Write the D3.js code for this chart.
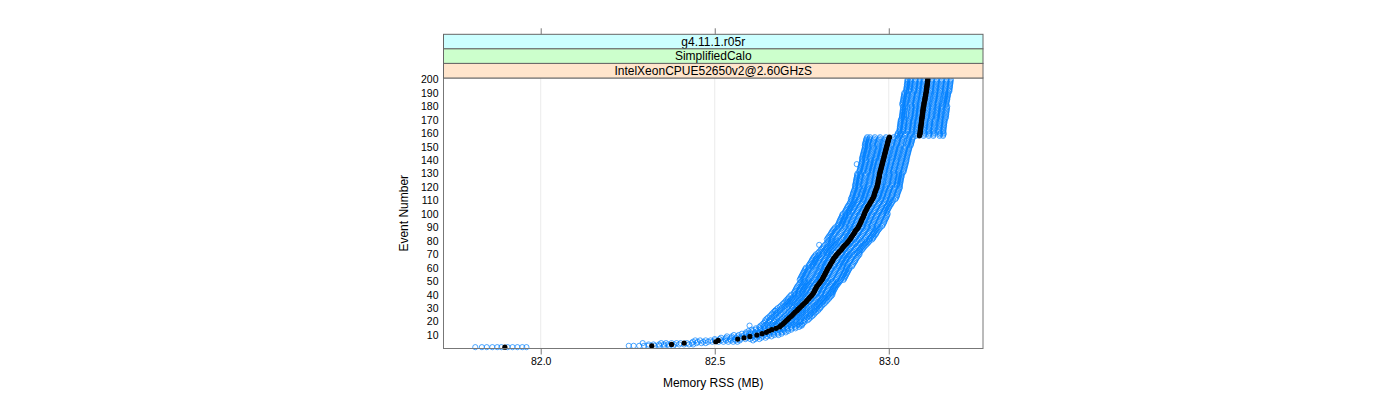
<!DOCTYPE html>
<html lang="en">
<head>
<meta charset="UTF-8">
<title>Memory RSS per event</title>
<script src="https://cdn.jsdelivr.net/npm/d3@7"></script>
<style>
    body { margin: 0; background: #fff; }
    text { font-family: "Liberation Sans", Arial, sans-serif; fill: #000; }
</style>
</head>
<body>
<svg id="chart" width="1400" height="400"></svg>
<script>
// strip labels (outer to inner) and their colours
const stripLabels = ["g4.11.1.r05r", "SimplifiedCalo", "IntelXeonCPUE52650v2@2.60GHzS"];
const stripColours = ["#ccffff", "#ccffcc", "#ffe5cc"];

const xTicks = [82.0, 82.5, 83.0];
const yTicks = [10, 20, 30, 40, 50, 60, 70, 80, 90, 100, 110, 120, 130, 140, 150, 160, 170, 180, 190, 200];

// median memory RSS (MB) for events 1..200, read from the black points
const medianRss = [
    81.897, 82.319, 82.376, 82.412, 82.503, 82.510, 82.566, 82.584, 82.601, 82.621,
    82.636, 82.648, 82.655, 82.664, 82.676, 82.686, 82.690, 82.695, 82.699, 82.703,
    82.707, 82.711, 82.715, 82.720, 82.724, 82.727, 82.731, 82.736, 82.739, 82.743,
    82.747, 82.751, 82.755, 82.759, 82.763, 82.766, 82.770, 82.773, 82.777, 82.780,
    82.783, 82.785, 82.787, 82.789, 82.791, 82.793, 82.796, 82.799, 82.802, 82.805,
    82.808, 82.810, 82.812, 82.814, 82.816, 82.818, 82.820, 82.822, 82.824, 82.826,
    82.829, 82.831, 82.833, 82.836, 82.838, 82.840, 82.842, 82.845, 82.848, 82.851,
    82.855, 82.858, 82.862, 82.865, 82.868, 82.871, 82.875, 82.879, 82.882, 82.885,
    82.888, 82.891, 82.893, 82.896, 82.899, 82.901, 82.903, 82.906, 82.909, 82.912,
    82.914, 82.916, 82.918, 82.920, 82.921, 82.923, 82.925, 82.927, 82.928, 82.930,
    82.931, 82.933, 82.935, 82.937, 82.939, 82.941, 82.944, 82.946, 82.948, 82.951,
    82.953, 82.955, 82.957, 82.958, 82.959, 82.960, 82.962, 82.963, 82.965, 82.966,
    82.967, 82.968, 82.969, 82.970, 82.970, 82.971, 82.972, 82.973, 82.973, 82.974,
    82.975, 82.976, 82.977, 82.978, 82.979, 82.980, 82.981, 82.982, 82.983, 82.984,
    82.985, 82.986, 82.987, 82.988, 82.989, 82.990, 82.991, 82.992, 82.993, 82.994,
    82.995, 82.996, 82.997, 82.998, 82.999, 83.000, 83.002, 83.088, 83.089, 83.090,
    83.090, 83.091, 83.091, 83.092, 83.092, 83.093, 83.093, 83.094, 83.094, 83.095,
    83.095, 83.096, 83.096, 83.097, 83.097, 83.098, 83.098, 83.099, 83.099, 83.100,
    83.101, 83.101, 83.102, 83.103, 83.104, 83.104, 83.105, 83.106, 83.106, 83.107,
    83.108, 83.108, 83.109, 83.109, 83.110, 83.110, 83.111, 83.111, 83.112, 83.112
];

// spread of the individual runs around the median (MB), one value per block of 10 events
const runOffsets = [
    [-0.052, -0.046, -0.050, -0.048, -0.045, -0.055, -0.050, -0.046, -0.056, -0.052, -0.048, -0.052, -0.055, -0.050, -0.054, -0.056, -0.050, -0.052, -0.054, -0.050],
    [-0.036, -0.032, -0.036, -0.038, -0.034, -0.038, -0.040, -0.035, -0.038, -0.042, -0.038, -0.036, -0.040, -0.035, -0.038, -0.042, -0.036, -0.034, -0.038, -0.035],
    [-0.022, -0.020, -0.018, -0.024, -0.025, -0.020, -0.024, -0.027, -0.022, -0.026, -0.023, -0.027, -0.024, -0.025, -0.022, -0.027, -0.024, -0.022, -0.025, -0.023],
    [-0.010, -0.012, -0.008, -0.013, -0.010, -0.011, -0.014, -0.010, -0.012, -0.013, -0.010, -0.012, -0.011, -0.013, -0.012, -0.010, -0.012, -0.011, -0.010, -0.012],
    [0.008, 0.010, 0.012, 0.008, 0.011, 0.010, 0.013, 0.009, 0.012, 0.010, 0.011, 0.014, 0.010, 0.012, 0.009, 0.012, 0.011, 0.013, 0.010, 0.012],
    [0.022, 0.020, 0.024, 0.025, 0.022, 0.025, 0.027, 0.024, 0.026, 0.022, 0.026, 0.025, 0.027, 0.024, 0.026, 0.027, 0.024, 0.026, 0.027, 0.025],
    [0.036, 0.033, 0.036, 0.038, 0.035, 0.040, 0.037, 0.038, 0.042, 0.037, 0.040, 0.038, 0.042, 0.038, 0.037, 0.040, 0.038, 0.042, 0.039, 0.040],
    [0.050, 0.045, 0.050, 0.048, 0.050, 0.054, 0.050, 0.053, 0.056, 0.052, 0.054, 0.051, 0.056, 0.053, 0.054, 0.058, 0.054, 0.052, 0.056, 0.054],
    [0.062, 0.056, 0.060, 0.058, 0.055, 0.062, 0.065, 0.060, 0.064, 0.067, 0.062, 0.066, 0.064, 0.067, 0.066, 0.068, 0.066, 0.068, 0.064, 0.066],
    [-0.066, -0.058, -0.062, -0.060, -0.056, -0.064, -0.060, -0.058, -0.066, -0.062, -0.058, -0.062, -0.064, -0.060, -0.062, -0.064, -0.060, -0.058, -0.062, -0.058]
];

// single stray run points [event, MB]
const strayPoints = [
    [1, 81.812], [4, 82.293], [6, 82.610], [17, 82.600], [17, 82.750],
    [28, 82.673], [35, 82.709], [77, 82.800], [137, 82.908]
];

let svg = d3.select('svg#chart');
let panel = {left: 443.5, right: 983, top: 78, bottom: 348.5};
let stripTop = 34.3;
let stripH = (panel.top - stripTop) / stripLabels.length;

let xScale = d3.scaleLinear().domain([81.7207, 83.2707]).range([panel.left, panel.right]);
let yScale = d3.scaleLinear().domain([0, 201]).range([panel.bottom, panel.top]);

// build the run points
let runPoints = [];
runOffsets.forEach(function (offs) {
    medianRss.forEach(function (m, i) {
        runPoints.push({event: i + 1, rss: m + offs[Math.floor(i / 10)]});
    });
});
strayPoints.forEach(function (d) { runPoints.push({event: d[0], rss: d[1]}); });

// vertical grid
svg.append('g').selectAll('line')
    .data(xTicks).enter().append('line')
    .attr('x1', d => xScale(d)).attr('x2', d => xScale(d))
    .attr('y1', panel.top).attr('y2', panel.bottom)
    .attr('stroke', '#ebebeb').attr('stroke-width', 1);

let plot = svg.append('g');
plot.selectAll('circle.run')
    .data(runPoints).enter().append('circle')
    .attr('class', 'run')
    .attr('cx', d => xScale(d.rss))
    .attr('cy', d => yScale(d.event))
    .attr('r', 2.6)
    .attr('fill', 'none')
    .attr('stroke', '#0080ff')
    .attr('stroke-width', 0.7);

plot.selectAll('circle.med')
    .data(medianRss).enter().append('circle')
    .attr('class', 'med')
    .attr('cx', d => xScale(d))
    .attr('cy', (d, i) => yScale(i + 1))
    .attr('r', 2.6)
    .attr('fill', '#000');

// panel border
svg.append('rect')
    .attr('x', panel.left).attr('y', panel.top)
    .attr('width', panel.right - panel.left).attr('height', panel.bottom - panel.top)
    .attr('fill', 'none').attr('stroke', '#777').attr('stroke-width', 1);

// strips
let strips = svg.append('g');
stripLabels.forEach(function (lab, i) {
    let y0 = stripTop + i * stripH;
    strips.append('rect')
        .attr('x', panel.left).attr('y', y0)
        .attr('width', panel.right - panel.left).attr('height', stripH)
        .attr('fill', stripColours[i]).attr('stroke', '#666').attr('stroke-width', 1);
    strips.append('text')
        .attr('x', (panel.left + panel.right) / 2).attr('y', y0 + stripH / 2 + 4.3)
        .attr('text-anchor', 'middle').style('font-size', '12px')
        .text(lab);
});

// axes
let xAxis = svg.append('g')
    .attr('transform', 'translate(0,' + panel.bottom + ')')
    .call(d3.axisBottom(xScale).tickValues(xTicks).tickFormat(d3.format('.1f')).tickSize(6).tickPadding(3));
let xTop = svg.append('g')
    .attr('transform', 'translate(0,' + stripTop + ')')
    .call(d3.axisTop(xScale).tickValues(xTicks).tickFormat('').tickSize(6));
let yAxis = svg.append('g')
    .attr('transform', 'translate(' + panel.left + ',0)')
    .call(d3.axisLeft(yScale).tickValues(yTicks).tickSize(0).tickPadding(5));

[xAxis, xTop, yAxis].forEach(function (a) {
    a.select('.domain').remove();
    a.selectAll('line').attr('stroke', '#777');
    a.selectAll('text').style('font-size', '10.5px').style('font-family', '"Liberation Sans", Arial, sans-serif').attr('fill', '#000');
});

// axis titles
svg.append('text')
    .attr('x', (panel.left + panel.right) / 2).attr('y', 387)
    .attr('text-anchor', 'middle').style('font-size', '12px')
    .text('Memory RSS (MB)');
svg.append('text')
    .attr('transform', 'translate(408,' + ((panel.top + panel.bottom) / 2) + ') rotate(-90)')
    .attr('text-anchor', 'middle').style('font-size', '12px')
    .text('Event Number');
</script>
</body>
</html>
